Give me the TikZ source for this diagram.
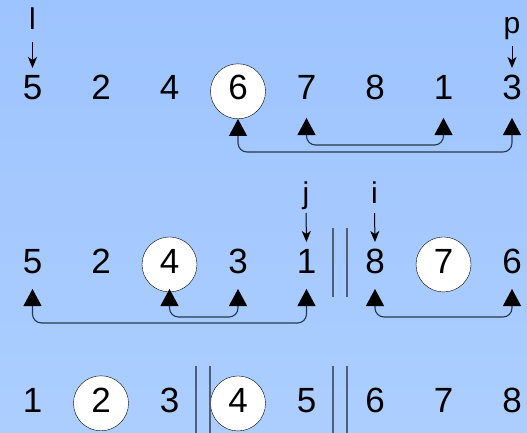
\documentclass[tikz,border=0pt]{standalone}
\usepackage{fontspec}
\setmainfont{Liberation Sans}
\usetikzlibrary{arrows.meta,calc}
\definecolor{bgtop}{RGB}{158,196,255}
\definecolor{bgbot}{RGB}{172,206,255}
\definecolor{wire}{RGB}{40,55,75}
\definecolor{barcol}{RGB}{80,95,120}

\tikzset{
  num/.style={font=\fontsize{35}{35}\selectfont, anchor=base, inner sep=0pt},
  ring/.style={num, circle, draw=black, thin, fill=white, minimum size=55pt, text depth=7pt},
  tag/.style={font=\fontsize{30}{30}\selectfont, anchor=base, inner sep=0pt},
  ptr/.style={-{Stealth[length=11pt,width=9pt,inset=3pt]}, line width=1pt},
  xchg/.style={draw=wire, line width=1.1pt, rounded corners=9pt,
    {Triangle[length=17pt,width=18pt,black]}-{Triangle[length=17pt,width=18pt,black]}},
  wall/.style={draw=barcol, line width=1.5pt}
}

\begin{document}
\begin{tikzpicture}[x=1pt,y=-1pt]
\shade[top color=bgtop, bottom color=bgbot] (0,0) rectangle (527,433);
\useasboundingbox (0,0) rectangle (527,433);

% first row
\foreach \v/\s [count=\k] in {5/num,2/num,4/num,6/ring,7/num,8/num,1/num,3/num}
  \node[\s] (a\k) at ({32.5+68.5*(\k-1)},100) {\v};
\node[tag] (l) at (32.5,30) {l};
\node[tag] (p) at (512,34) {p};
\draw[ptr] ([yshift=-12pt]l.base) -- ([yshift=32pt]a1.base);
\draw[ptr] ([yshift=-12pt]p.base) -- ([yshift=32pt]a8.base);

\draw[xchg] (a4.south) -- ([yshift=-52pt]a4.base) -- ([yshift=-52pt]a8.base) -- ([yshift=-18pt]a8.base);
\draw[xchg] ([yshift=-18pt]a5.base) -- ([yshift=-45pt]a5.base) -- ([yshift=-45pt]a7.base) -- ([yshift=-18pt]a7.base);

% second row
\foreach \v/\s [count=\k] in {5/num,2/num,4/ring,3/num,1/num,8/num,7/ring,6/num}
  \node[\s] (b\k) at ({32.5+68.5*(\k-1)},273) {\v};
\node[tag] (j) at (306,203) {j};
\node[tag] (i) at (374.5,203) {i};
\draw[ptr] ([yshift=-10pt]j.base) -- ([yshift=31pt]b5.base);
\draw[ptr] ([yshift=-10pt]i.base) -- ([yshift=31pt]b6.base);

\draw[xchg] ([yshift=-16pt]b1.base) -- ([yshift=-50pt]b1.base) -- ([yshift=-50pt]b5.base) -- ([yshift=-16pt]b5.base);
\draw[xchg] ([yshift=-16pt]b3.base) -- ([yshift=-44pt]b3.base) -- ([yshift=-44pt]b4.base) -- ([yshift=-16pt]b4.base);
\draw[xchg] ([yshift=-16pt]b6.base) -- ([yshift=-44pt]b6.base) -- ([yshift=-44pt]b8.base) -- ([yshift=-16pt]b8.base);

\draw[wall] (333,228) -- (333,297);
\draw[wall] (347,228) -- (347,297);

% third row
\foreach \v/\s [count=\k] in {1/num,2/ring,3/num,4/ring,5/num,6/num,7/num,8/num}
  \node[\s] (c\k) at ({32.5+68.5*(\k-1)},412) {\v};

\draw[wall] (196,366) -- (196,433);
\draw[wall] (210,366) -- (210,433);
\draw[wall] (333,366) -- (333,433);
\draw[wall] (347,366) -- (347,433);
\end{tikzpicture}
\end{document}
